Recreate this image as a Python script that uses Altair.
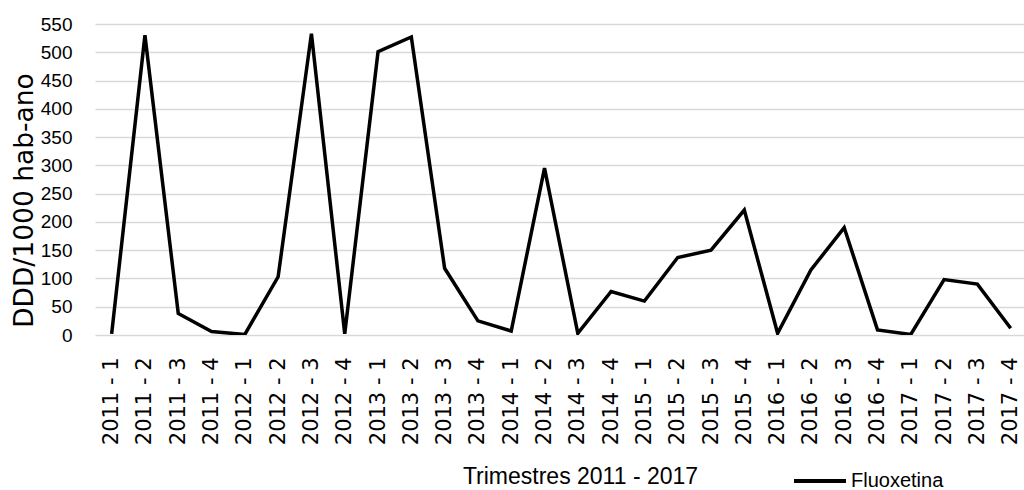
import altair as alt
import pandas as pd
import json

# Quarterly consumption of fluoxetine, DDD per 1000 inhabitants per year
quarters = [
    "2011 - 1", "2011 - 2", "2011 - 3", "2011 - 4",
    "2012 - 1", "2012 - 2", "2012 - 3", "2012 - 4",
    "2013 - 1", "2013 - 2", "2013 - 3", "2013 - 4",
    "2014 - 1", "2014 - 2", "2014 - 3", "2014 - 4",
    "2015 - 1", "2015 - 2", "2015 - 3", "2015 - 4",
    "2016 - 1", "2016 - 2", "2016 - 3", "2016 - 4",
    "2017 - 1", "2017 - 2", "2017 - 3", "2017 - 4",
]
fluoxetina = [
    2, 530, 38, 6,
    1, 103, 533, 2,
    501, 527, 118, 25,
    7, 295, 3, 77,
    60, 137, 150, 221,
    3, 115, 190, 9,
    1, 98, 90, 12,
]
series_name = "Fluoxetina"
y_ticks = list(range(0, 551, 50))

df = pd.DataFrame({
    "idx": list(range(len(quarters))),
    "quarter": quarters,
    "value": fluoxetina,
    "series": series_name,
})

narrow = "Liberation Sans, Arial, sans-serif"
wide = "DejaVu Sans, Verdana, sans-serif"

label_expr = json.dumps(quarters) + "[datum.value]"

chart = alt.Chart(df).mark_line(
    strokeWidth=3.5, strokeJoin="miter", clip=True
).encode(
    x=alt.X(
        "idx:Q",
        scale=alt.Scale(domain=[-0.5, 27.4], nice=False, zero=False),
        axis=alt.Axis(
            values=list(range(len(quarters))),
            labelExpr=label_expr,
            labelAngle=270,
            labelAlign="right",
            labelBaseline="middle",
            labelFont=wide,
            labelFontSize=21,
            labelColor="black",
            labelPadding=22,
            labelOverlap=False,
            labelBound=False,
            ticks=False,
            domain=False,
            grid=False,
            title="Trimestres 2011 - 2017",
            titleFont=narrow,
            titleFontSize=23,
            titleFontWeight="normal",
            titleColor="black",
            titleX=485,
            titleY=148,
            titleAlign="center",
            titleBaseline="alphabetic",
        ),
    ),
    y=alt.Y(
        "value:Q",
        scale=alt.Scale(domain=[0, 550], nice=False),
        axis=alt.Axis(
            values=y_ticks,
            labelFont=narrow,
            labelFontSize=19,
            labelColor="black",
            labelPadding=23,
            ticks=False,
            domain=False,
            grid=True,
            gridColor="#d9d9d9",
            gridWidth=1.5,
            title="DDD/1000 hab-ano",
            titleFont=wide,
            titleFontSize=26.5,
            titleFontWeight="normal",
            titleColor="black",
            titleAngle=270,
            titleAlign="center",
            titleBaseline="alphabetic",
            titleX=-63,
            titleY=176,
        ),
    ),
    color=alt.Color(
        "series:N",
        scale=alt.Scale(domain=[series_name], range=["black"]),
        legend=alt.Legend(
            title=None,
            orient="none",
            legendX=697,
            legendY=429,
            symbolType="stroke",
            symbolSize=2704,
            symbolStrokeWidth=4,
            labelFont=narrow,
            labelFontSize=20,
            labelColor="black",
            labelOffset=3,
            padding=0,
        ),
    ),
).properties(
    width=929,
    height=311,
    autosize=alt.AutoSizeParams(type="none"),
    padding={"left": 95, "top": 24, "right": 0, "bottom": 155},
    background="white",
).configure_view(stroke=None)

chart.save("out.html", embed_options={"renderer": "svg", "actions": False})
